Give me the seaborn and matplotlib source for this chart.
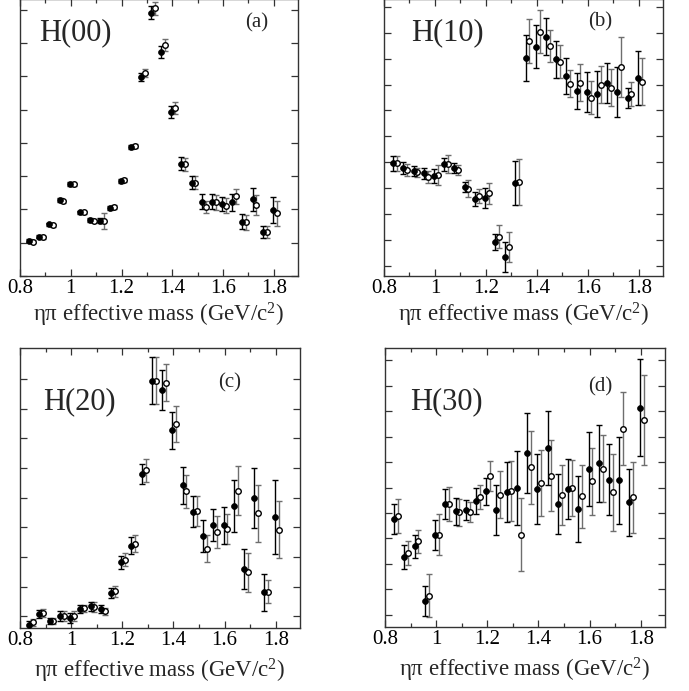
import numpy as np
import pandas as pd
import seaborn as sns
import matplotlib
matplotlib.use("Agg")
import matplotlib.pyplot as plt
from matplotlib.ticker import MultipleLocator

sns.set_style("ticks")
plt.rcParams['font.family'] = ['Liberation Serif', 'DejaVu Serif']
plt.rcParams['mathtext.fontset'] = 'custom'
plt.rcParams['mathtext.rm'] = 'Liberation Serif'
plt.rcParams['mathtext.it'] = 'Liberation Serif:italic'

# bin centres (GeV/c^2)
mass_filled = [0.836 + 0.04 * k for k in range(25)]
mass_open = [m + 0.015 for m in mass_filled]

# H(00)
h00_f = [1.06, 1.18, 1.55, 2.28, 2.76, 1.91, 1.68, 1.66, 2.03, 2.86, 3.86, 5.98, 7.91,
         6.73, 4.93, 3.37, 2.80, 2.23, 2.23, 2.16, 2.21, 1.63, 2.30, 1.31, 1.98]
h00_o = [1.03, 1.16, 1.52, 2.24, 2.75, 1.91, 1.66, 1.66, 2.07, 2.89, 3.89, 6.11, 8.04,
         6.94, 5.06, 3.35, 2.80, 2.08, 2.21, 2.11, 2.39, 1.61, 2.14, 1.31, 1.88]
h00_fe = [0.05, 0.05, 0.05, 0.05, 0.05, 0.05, 0.05, 0.08, 0.06, 0.06, 0.06, 0.12, 0.19,
          0.18, 0.18, 0.20, 0.20, 0.22, 0.22, 0.22, 0.25, 0.22, 0.35, 0.18, 0.40]
h00_oe = [0.05, 0.05, 0.05, 0.05, 0.05, 0.05, 0.05, 0.24, 0.06, 0.06, 0.06, 0.12, 0.20,
          0.18, 0.18, 0.20, 0.20, 0.18, 0.22, 0.22, 0.22, 0.22, 0.30, 0.18, 0.38]

# H(10)
h10_f = [3.96, 3.77, 3.65, 3.57, 3.47, 3.92, 3.77, 3.06, 2.58, 2.61, 0.93, 0.36, 3.21,
         8.03, 8.46, 8.84, 7.97, 7.33, 6.75, 6.72, 6.63, 7.07, 6.72, 6.49, 7.26]
h10_o = [3.96, 3.70, 3.61, 3.42, 3.51, 3.93, 3.70, 2.99, 2.70, 2.80, 1.13, 0.75, 3.24,
         8.68, 9.04, 8.48, 7.88, 7.04, 7.07, 6.49, 7.00, 6.88, 7.69, 6.63, 7.11]
h10_fe = [0.28, 0.23, 0.19, 0.23, 0.26, 0.26, 0.19, 0.19, 0.26, 0.39, 0.32, 0.58, 0.84,
          0.90, 0.84, 0.71, 0.71, 0.71, 0.71, 0.77, 0.90, 0.77, 0.96, 0.39, 1.03]
h10_oe = [0.28, 0.23, 0.19, 0.23, 0.39, 0.36, 0.19, 0.32, 0.26, 0.39, 0.45, 0.58, 0.90,
          0.84, 0.84, 0.62, 0.64, 0.51, 0.71, 0.64, 0.71, 0.71, 1.16, 0.45, 0.90]

# H(20)
h20_f = [-0.28, 0.09, -0.15, 0.00, -0.06, 0.25, 0.34, 0.25, 0.79, 1.82, 2.38, 4.80, 7.94,
         7.62, 6.27, 4.42, 3.53, 2.70, 3.07, 3.07, 3.71, 1.60, 3.99, 0.81, 3.34]
h20_o = [-0.20, 0.11, -0.15, 0.00, 0.02, 0.27, 0.31, 0.17, 0.84, 1.91, 2.45, 4.92, 7.94,
         7.87, 6.48, 4.21, 3.56, 2.28, 2.83, 2.94, 4.24, 1.48, 3.48, 0.83, 2.92]
h20_fe = [0.11, 0.13, 0.11, 0.17, 0.17, 0.13, 0.16, 0.13, 0.17, 0.22, 0.28, 0.34, 0.79,
          0.67, 0.62, 0.62, 0.51, 0.54, 0.54, 0.62, 0.88, 0.67, 1.01, 0.62, 1.24]
h20_oe = [0.11, 0.13, 0.11, 0.17, 0.17, 0.13, 0.16, 0.13, 0.17, 0.22, 0.28, 0.39, 0.79,
          0.62, 0.62, 0.56, 0.51, 0.45, 0.54, 0.51, 0.84, 0.67, 0.96, 0.39, 0.96]

# H(30)
h30_f = [3.76, 2.27, 2.69, 0.55, 3.12, 4.36, 4.06, 4.10, 4.46, 4.85, 4.10, 4.81, 4.98,
         6.36, 4.95, 6.55, 4.35, 4.95, 4.15, 5.73, 5.96, 5.31, 5.28, 4.42, 8.13]
h30_o = [3.87, 2.42, 2.88, 0.75, 3.15, 4.35, 4.02, 4.04, 4.63, 5.44, 4.72, 4.85, 3.15,
         5.79, 5.18, 5.47, 4.71, 4.98, 4.65, 5.24, 5.74, 4.81, 7.31, 4.61, 7.64]
h30_fe = [0.59, 0.46, 0.46, 0.59, 0.59, 0.59, 0.52, 0.39, 0.52, 0.52, 0.98, 1.18, 1.44,
          1.57, 1.38, 1.44, 1.18, 1.18, 1.31, 1.44, 1.51, 1.38, 1.70, 1.31, 1.90]
h30_oe = [0.66, 0.46, 0.46, 0.85, 0.79, 0.66, 0.52, 0.39, 0.46, 0.59, 0.92, 1.18, 1.44,
          1.44, 1.31, 1.38, 1.18, 1.11, 1.25, 1.31, 1.31, 1.51, 1.44, 1.38, 1.77]

names = ["H(00)", "H(10)", "H(20)", "H(30)"]
tags = ["(a)", "(b)", "(c)", "(d)"]
series = [(h00_f, h00_o, h00_fe, h00_oe), (h10_f, h10_o, h10_fe, h10_oe),
          (h20_f, h20_o, h20_fe, h20_oe), (h30_f, h30_o, h30_fe, h30_oe)]

W, H = 689, 691
fig = plt.figure(figsize=(W / 100, H / 100), dpi=100)

# axes boxes in pixels: left, right, top, bottom
boxes = [(20, 298, -1, 276), (384, 663, -1, 276), (20, 300, 348, 628), (385, 665, 348, 627)]
ylims = [(0, 8.32), (-0.385, 10.30), (-0.39, 9.04), (-0.48, 10.48)]
yticks = [range(0, 9), range(0, 11), range(0, 9), range(0, 11)]
name_pos = [(0.198, 0.877), (0.229, 0.877), (0.214, 0.807), (0.221, 0.806)]
tag_pos = [(0.853, 0.913), (0.774, 0.917), (0.75, 0.875), (0.768, 0.86)]

for i in range(4):
    l, r, t, b = boxes[i]
    ax = fig.add_axes([l / W, 1 - b / H, (r - l) / W, (b - t) / H])
    f, o, fe, oe = series[i]
    df = pd.DataFrame({
        "mass": mass_filled + mass_open,
        "value": f + o,
        "err": fe + oe,
        "kind": ["filled"] * 25 + ["open"] * 25,
    })
    dfo = df[df.kind == "open"]
    dff = df[df.kind == "filled"]
    ax.errorbar(dfo["mass"], dfo["value"], yerr=dfo["err"], fmt='none',
                ecolor='#6e6e6e', elinewidth=1.0, capsize=2.2, capthick=1.0, zorder=2)
    ax.errorbar(dff["mass"], dff["value"], yerr=dff["err"], fmt='none',
                ecolor='black', elinewidth=1.0, capsize=2.2, capthick=1.0, zorder=2)
    sns.scatterplot(data=dfo, x="mass", y="value", ax=ax, marker='o', s=16,
                    facecolor='white', edgecolor='black', linewidth=1.0, zorder=3)
    sns.scatterplot(data=dff, x="mass", y="value", ax=ax, marker='o', s=18,
                    color='black', edgecolor='black', linewidth=0.5, zorder=4)
    ax.set_xlim(0.8, 1.895)
    ax.set_ylim(*ylims[i])
    ax.xaxis.set_major_locator(MultipleLocator(0.2))
    ax.xaxis.set_minor_locator(MultipleLocator(0.1))
    ax.set_yticks(list(yticks[i]))
    ax.set_yticklabels([])
    ax.set_xticks([0.8, 1.0, 1.2, 1.4, 1.6, 1.8])
    ax.set_xticklabels(["0.8", "1", "1.2", "1.4", "1.6", "1.8"], fontsize=15)
    ax.tick_params(axis='both', which='major', direction='in', length=5, width=0.9,
                   top=True, right=True, colors='#333333', labelcolor='black', pad=2)
    ax.tick_params(axis='x', which='minor', direction='in', length=3, width=0.9,
                   top=True, colors='#333333')
    for sp in ax.spines.values():
        sp.set_linewidth(1.0)
        sp.set_color('#333333')
    ax.set_ylabel("")
    ax.set_xlabel(r"ηπ effective mass (GeV/c$^2$)", fontsize=16.5, labelpad=2 if i < 2 else 5)
    ax.text(name_pos[i][0], name_pos[i][1], names[i], transform=ax.transAxes,
            fontsize=22, ha='center', va='center')
    ax.text(tag_pos[i][0], tag_pos[i][1], tags[i], transform=ax.transAxes,
            fontsize=15, ha='center', va='center')

fig.savefig("out.png", dpi=100)
